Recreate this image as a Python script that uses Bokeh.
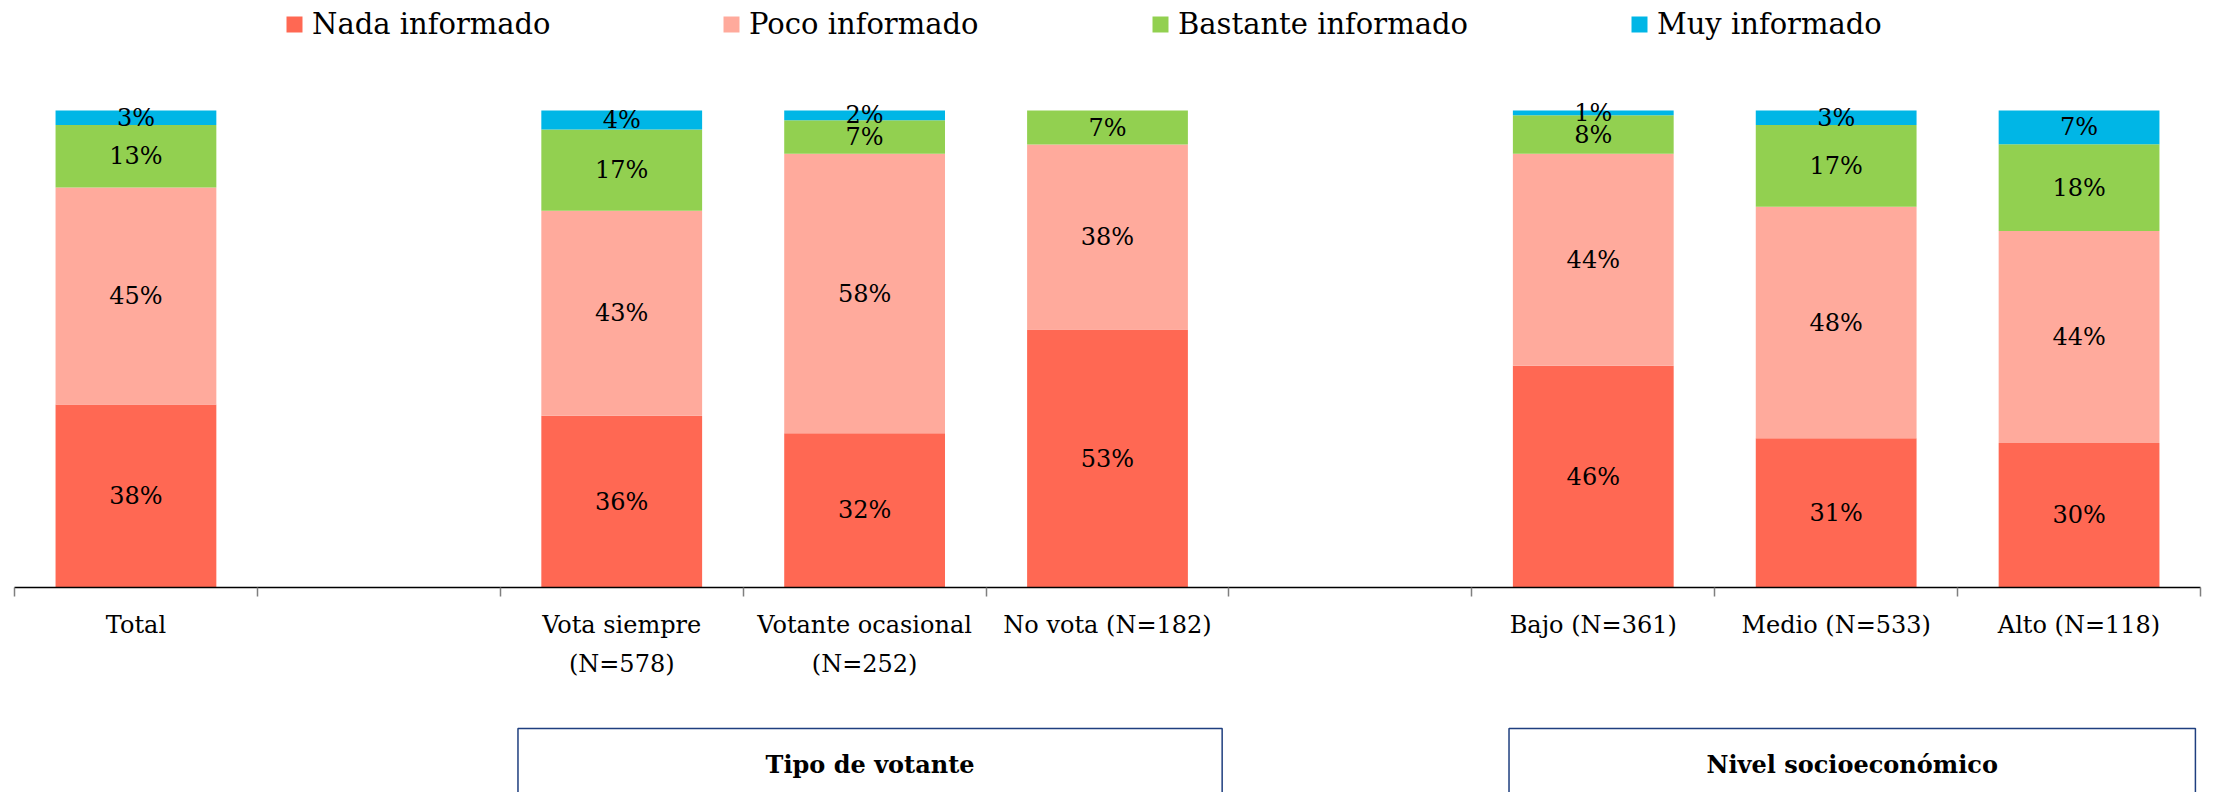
from bokeh.plotting import figure
from bokeh.models import Range1d, LinearAxis, FixedTicker, Legend, LegendItem, ColumnDataSource
from bokeh.layouts import column
from bokeh.embed import file_html
from bokeh.resources import INLINE
from bokeh.core.properties import value

# ---------------- data ----------------
slot_labels = ["Total", "", "Vota siempre\n(N=578)", "Votante ocasional\n(N=252)",
               "No vota (N=182)", " ", "Bajo (N=361)", "Medio (N=533)", "Alto (N=118)"]
categories = ["Total", "Vota siempre\n(N=578)", "Votante ocasional\n(N=252)",
              "No vota (N=182)", "Bajo (N=361)", "Medio (N=533)", "Alto (N=118)"]
series = ["Nada informado", "Poco informado", "Bastante informado", "Muy informado"]
nada = [38, 36, 32, 53, 46, 31, 30]
poco = [45, 43, 58, 38, 44, 48, 44]
bastante = [13, 17, 7, 7, 8, 17, 18]
muy = [3, 4, 2, 0, 1, 3, 7]
groups = ["Tipo de votante", "Nivel socioeconómico"]
group_members = [["Vota siempre\n(N=578)", "Votante ocasional\n(N=252)", "No vota (N=182)"],
                 ["Bajo (N=361)", "Medio (N=533)", "Alto (N=118)"]]

# ---------------- style ----------------
colors = ["#FF6853", "#FFAA9C", "#92D050", "#00B6E6"]
FONT = "DejaVu Serif"
W = 2210
LEFT = 14
FRAME_W = 2186

values = [nada, poco, bastante, muy]
keys = ["nada", "poco", "bastante", "muy"]
x = [slot_labels.index(c) + 0.5 for c in categories]
totals = [sum(v[i] for v in values) for i in range(len(categories))]
data = {"x": x}
for k, v in zip(keys, values):
    data[k] = [v[i] / totals[i] for i in range(len(categories))]
src = ColumnDataSource(data)

# label positions (segment centres)
lx, ly, lt = [], [], []
for i in range(len(categories)):
    base = 0.0
    for k, v in zip(keys, values):
        h = data[k][i]
        if v[i] > 0:
            lx.append(x[i]); ly.append(base + h / 2); lt.append(f"{v[i]}%")
        base += h
lsrc = ColumnDataSource(dict(x=lx, y=ly, t=lt))

nslots = len(slot_labels)
p = figure(width=W, height=700, x_range=Range1d(0, nslots), y_range=Range1d(0, 587 / 477),
           x_axis_type=None, y_axis_type=None, toolbar_location=None, output_backend="svg",
           min_border_left=LEFT, min_border_right=W - LEFT - FRAME_W, min_border_top=0,
           min_border_bottom=113)
p.outline_line_color = None
p.xgrid.visible = False
p.ygrid.visible = False

rs = p.vbar_stack(keys, x="x", width=0.662, color=colors, line_color=None, source=src)
p.text(x="x", y="y", text="t", source=lsrc, text_align="center", text_baseline="middle",
       text_font=value(FONT), text_font_size="24px", text_color="#000000")

centers = [i + 0.5 for i in range(nslots)]
axis = LinearAxis(ticker=FixedTicker(ticks=centers, minor_ticks=list(range(nslots + 1))))
axis.major_label_overrides = {c: lab for c, lab in zip(centers, slot_labels)}
axis.major_tick_out = 0
axis.major_tick_in = 0
axis.minor_tick_out = 9
axis.minor_tick_in = 0
axis.minor_tick_line_color = "#7F7F7F"
axis.minor_tick_line_width = 1.5
axis.axis_line_color = "#000000"
axis.axis_line_width = 1.5
axis.major_label_text_font = FONT
axis.major_label_text_font_size = "24px"
axis.major_label_text_color = "#000000"
axis.major_label_text_line_height = 1.4
axis.major_label_standoff = 14
p.add_layout(axis, "below")

leg_x = [270, 707, 1136, 1615]
for i, r in enumerate(rs):
    leg = Legend(items=[LegendItem(label=series[i], renderers=[r])], location=(leg_x[i], 546),
                 orientation="horizontal", glyph_width=20, glyph_height=20, label_standoff=8,
                 label_text_font=FONT, label_text_font_size="29px", label_text_color="#000000",
                 padding=0, margin=0, border_line_alpha=0, background_fill_alpha=0, spacing=0)
    p.add_layout(leg, "center")

# ---------------- group boxes ----------------
H2 = 92
slot_px = FRAME_W / nslots
x0 = -LEFT / slot_px
x1 = (W - LEFT) / slot_px
p2 = figure(width=W, height=H2, x_range=Range1d(x0, x1), y_range=Range1d(0, H2),
            x_axis_type=None, y_axis_type=None, toolbar_location=None, output_backend="svg",
            min_border=0)
p2.outline_line_color = None
p2.xgrid.visible = False
p2.ygrid.visible = False
pad_l = [0.038, 0.163]
pad_r = [-0.031, 0.02]
bl, br, bc = [], [], []
for g, mem, a, b in zip(groups, group_members, pad_l, pad_r):
    idx = [slot_labels.index(m) for m in mem]
    left = min(idx) + a
    right = max(idx) + 1 + b
    bl.append(left); br.append(right); bc.append((left + right) / 2)
p2.quad(left=bl, right=br, top=[H2 - 28] * len(groups), bottom=[-30] * len(groups),
        fill_color=None, line_color="#1F3F7F", line_width=1.5)
p2.text(x=bc, y=[H2 - 64] * len(groups), text=groups, text_align="center", text_baseline="middle",
        text_font=value(FONT), text_font_style="bold", text_font_size="24px", text_color="#000000")

layout = column(p, p2, spacing=0)
open("out.html", "w").write(file_html(layout, INLINE))
